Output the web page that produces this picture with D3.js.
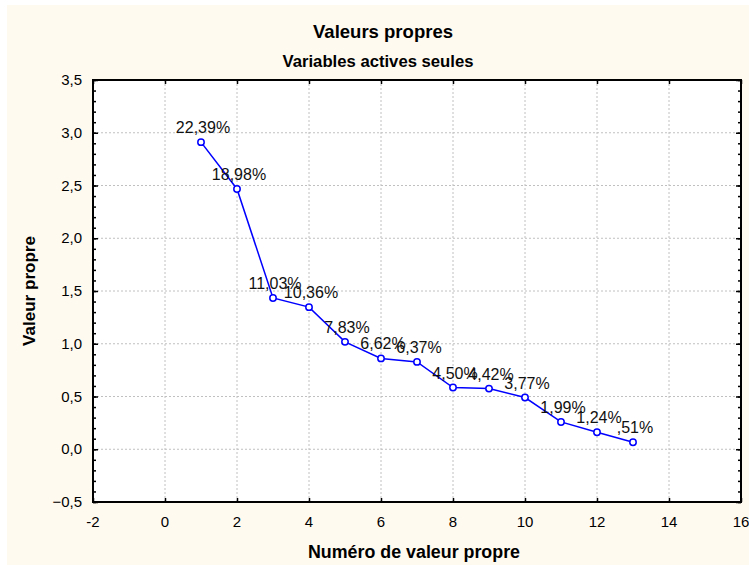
<!DOCTYPE html>
<html>
<head>
<meta charset="utf-8">
<script src="https://cdn.jsdelivr.net/npm/d3@7"></script>
<style>
  body { margin: 0; background: #fff; }
  .narrow { font-family: "Liberation Sans Narrow", "Arial Narrow", "Liberation Sans", sans-serif; font-weight: bold; }
  .reg { font-family: "Liberation Sans", Arial, sans-serif; }
</style>
</head>
<body>
<div id="chart"></div>
<script>
// scree plot of the eigenvalues
const ranks   = [1, 2, 3, 4, 5, 6, 7, 8, 9, 10, 11, 12, 13];
const eigen   = [2.911, 2.467, 1.434, 1.347, 1.018, 0.861, 0.828, 0.585, 0.575, 0.490, 0.259, 0.161, 0.066];
const labels  = ["22,39%", "18,98%", "11,03%", "10,36%", "7,83%", "6,62%", "6,37%", "4,50%", "4,42%", "3,77%", "1,99%", "1,24%", ",51%"];
const xTicks  = [-2, 0, 2, 4, 6, 8, 10, 12, 14, 16];
const yTicks  = [-0.5, 0, 0.5, 1, 1.5, 2, 2.5, 3, 3.5];

const W = 749, H = 565;
const mLeft = 93, mRight = 741, mTop = 80, mBottom = 502;

const svg = d3.select('#chart')
  .append('svg')
    .attr('width', W)
    .attr('height', H);

svg.append('rect')
  .attr('x', 7).attr('y', 5)
  .attr('width', W - 7).attr('height', H - 5)
  .attr('fill', '#fffaf0');

const x = d3.scaleLinear().domain([-2, 16]).range([mLeft, mRight]);
const y = d3.scaleLinear().domain([-0.5, 3.5]).range([mBottom, mTop]);
const fmt = d => d3.format('.1f')(d).replace('.', ',');

svg.append('rect')
  .attr('x', mLeft).attr('y', mTop)
  .attr('width', mRight - mLeft).attr('height', mBottom - mTop)
  .attr('fill', '#fff');

// dotted grid
const grid = svg.append('g')
  .attr('stroke', '#c0c0c0')
  .attr('stroke-dasharray', '2,2');
grid.selectAll('.gx').data(xTicks.slice(1, -1))
  .enter().append('line')
    .attr('x1', d => x(d)).attr('x2', d => x(d))
    .attr('y1', mTop).attr('y2', mBottom);
grid.selectAll('.gy').data(yTicks.slice(1, -1))
  .enter().append('line')
    .attr('y1', d => y(d)).attr('y2', d => y(d))
    .attr('x1', mLeft).attr('x2', mRight);

// axes, ticks pointing inward
svg.append('g')
  .attr('transform', `translate(0,${mBottom})`)
  .call(d3.axisTop(x).tickValues(xTicks).tickSize(4).tickFormat(''))
  .call(g => g.select('.domain').remove());
svg.append('g')
  .attr('transform', `translate(0,${mTop})`)
  .call(d3.axisBottom(x).tickValues(xTicks).tickSize(4).tickFormat(''))
  .call(g => g.select('.domain').remove());

const minor = d3.range(-0.5, 3.51, 0.1);
svg.append('g')
  .attr('transform', `translate(${mLeft},0)`)
  .call(d3.axisRight(y).tickValues(minor).tickSize(3).tickFormat(''))
  .call(g => g.select('.domain').remove());
svg.append('g')
  .attr('transform', `translate(${mLeft},0)`)
  .call(d3.axisRight(y).tickValues(yTicks).tickSize(5).tickFormat(''))
  .call(g => g.select('.domain').remove());
svg.append('g')
  .attr('transform', `translate(${mRight},0)`)
  .call(d3.axisLeft(y).tickValues(minor).tickSize(3).tickFormat(''))
  .call(g => g.select('.domain').remove());
svg.append('g')
  .attr('transform', `translate(${mRight},0)`)
  .call(d3.axisLeft(y).tickValues(yTicks).tickSize(5).tickFormat(''))
  .call(g => g.select('.domain').remove());
svg.selectAll('.tick line').attr('stroke', '#000').attr('stroke-width', 1.5);

svg.append('rect')
  .attr('x', mLeft).attr('y', mTop)
  .attr('width', mRight - mLeft).attr('height', mBottom - mTop)
  .attr('fill', 'none')
  .attr('stroke', '#000')
  .attr('stroke-width', 2);

// tick labels
svg.selectAll('.xl').data(xTicks)
  .enter().append('text')
    .attr('class', 'reg')
    .attr('x', d => x(d))
    .attr('y', mBottom + 25)
    .attr('text-anchor', 'middle')
    .attr('font-size', 15)
    .text(d => d);
svg.selectAll('.yl').data(yTicks)
  .enter().append('text')
    .attr('class', 'reg')
    .attr('x', mLeft - 11)
    .attr('y', d => y(d) + 5)
    .attr('text-anchor', 'end')
    .attr('font-size', 15)
    .text(fmt);

// titles (condensed bold look via textLength)
function title(txt, xx, yy, size, len, rot) {
  const t = svg.append('text').attr('class', 'narrow')
    .attr('text-anchor', 'middle')
    .attr('font-size', size)
    .attr('textLength', len)
    .attr('lengthAdjust', 'spacingAndGlyphs')
    .text(txt);
  if (rot) t.attr('transform', `translate(${xx},${yy}) rotate(-90)`);
  else t.attr('x', xx).attr('y', yy);
}
title('Valeurs propres', 383, 38, 19, 140);
title('Variables actives seules', 378, 67, 17, 191);
title('Numéro de valeur propre', 414, 558, 17.5, 212);
title('Valeur propre', 35, (mTop + mBottom) / 2, 17, 110, true);

// series
const pts = ranks.map((r, i) => [r, eigen[i]]);
svg.append('path')
  .datum(pts)
  .attr('fill', 'none')
  .attr('stroke', '#0000ff')
  .attr('stroke-width', 1.5)
  .attr('d', d3.line().x(d => x(d[0])).y(d => y(d[1])));

svg.selectAll('.pt').data(pts)
  .enter().append('circle')
    .attr('cx', d => x(d[0]))
    .attr('cy', d => y(d[1]))
    .attr('r', 3.2)
    .attr('fill', '#fff')
    .attr('stroke', '#0000ff')
    .attr('stroke-width', 1.5);

svg.selectAll('.lbl').data(pts)
  .enter().append('text')
    .attr('class', 'reg')
    .attr('x', d => x(d[0]) + 2)
    .attr('y', d => y(d[1]) - 9)
    .attr('text-anchor', 'middle')
    .attr('font-size', 16)
    .attr('fill', '#111')
    .text((d, i) => labels[i]);
</script>
</body>
</html>
